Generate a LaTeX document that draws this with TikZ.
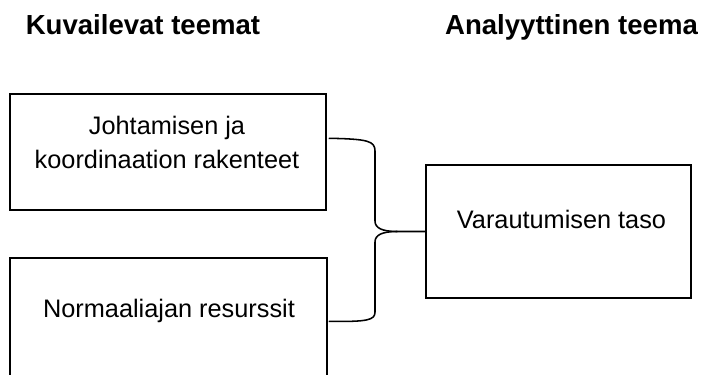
\documentclass[tikz,border=0pt]{standalone}
\usepackage{fontspec}
\setmainfont{Liberation Sans}
\usetikzlibrary{calc}

\begin{document}
\begin{tikzpicture}[x=0.025cm, y=-0.025cm, line width=1pt,
    box/.style = {draw, rectangle, inner sep=0pt},
    teksti/.style = {font=\fontsize{18}{24.2}\selectfont, inner sep=0pt},
    otsikko/.style = {font=\fontsize{19.6}{24}\selectfont\bfseries, inner sep=0pt, anchor=base},
    brace/.style = {line width=1.1pt, line join=round}]
                \clip (0,0) rectangle (702,374);
                \node[otsikko] (kuvail) at (143,35) {Kuvailevat teemat};
                \node[otsikko] (analyy) at (571.5,35) {Analyyttinen teema};
                \node[box, minimum width=7.9cm, minimum height=2.9cm] (johto) at (168,152) {};
                \node[box, minimum width=7.925cm, minimum height=3.25cm] (normaali) at (168.5,323) {};
                \node[box, minimum width=6.625cm, minimum height=3.325cm] (varau) at (558.5,231.5) {};
                \node[teksti, align=center] (johtoT) at (167,142.5) {Johtamisen ja\\koordinaation rakenteet};
                \node[teksti, anchor=base] (normaaliT) at (169,317) {Normaaliajan resurssit};
                \node[teksti, anchor=base] (varauT) at (561.5,228) {Varautumisen taso};
                \coordinate (b1) at ($(johto.north east)+(2,45)$);
                \coordinate (b2) at ($(normaali.north east)+(1,64)$);
                \coordinate (tip) at ($(varau.west)+(-28,0)$);
                \draw[brace] (b1) .. controls (368,139) and (375,141) .. (375,151) -- (375,221)
                    .. controls (375,228) and (382,231.5) .. (tip) -- (varau.west);
                \draw[brace] (tip) .. controls (382,231.5) and (375,235) .. (375,242) -- (375,312)
                    .. controls (375,320) and (368,322) .. (b2);
            \end{tikzpicture}
\end{document}
